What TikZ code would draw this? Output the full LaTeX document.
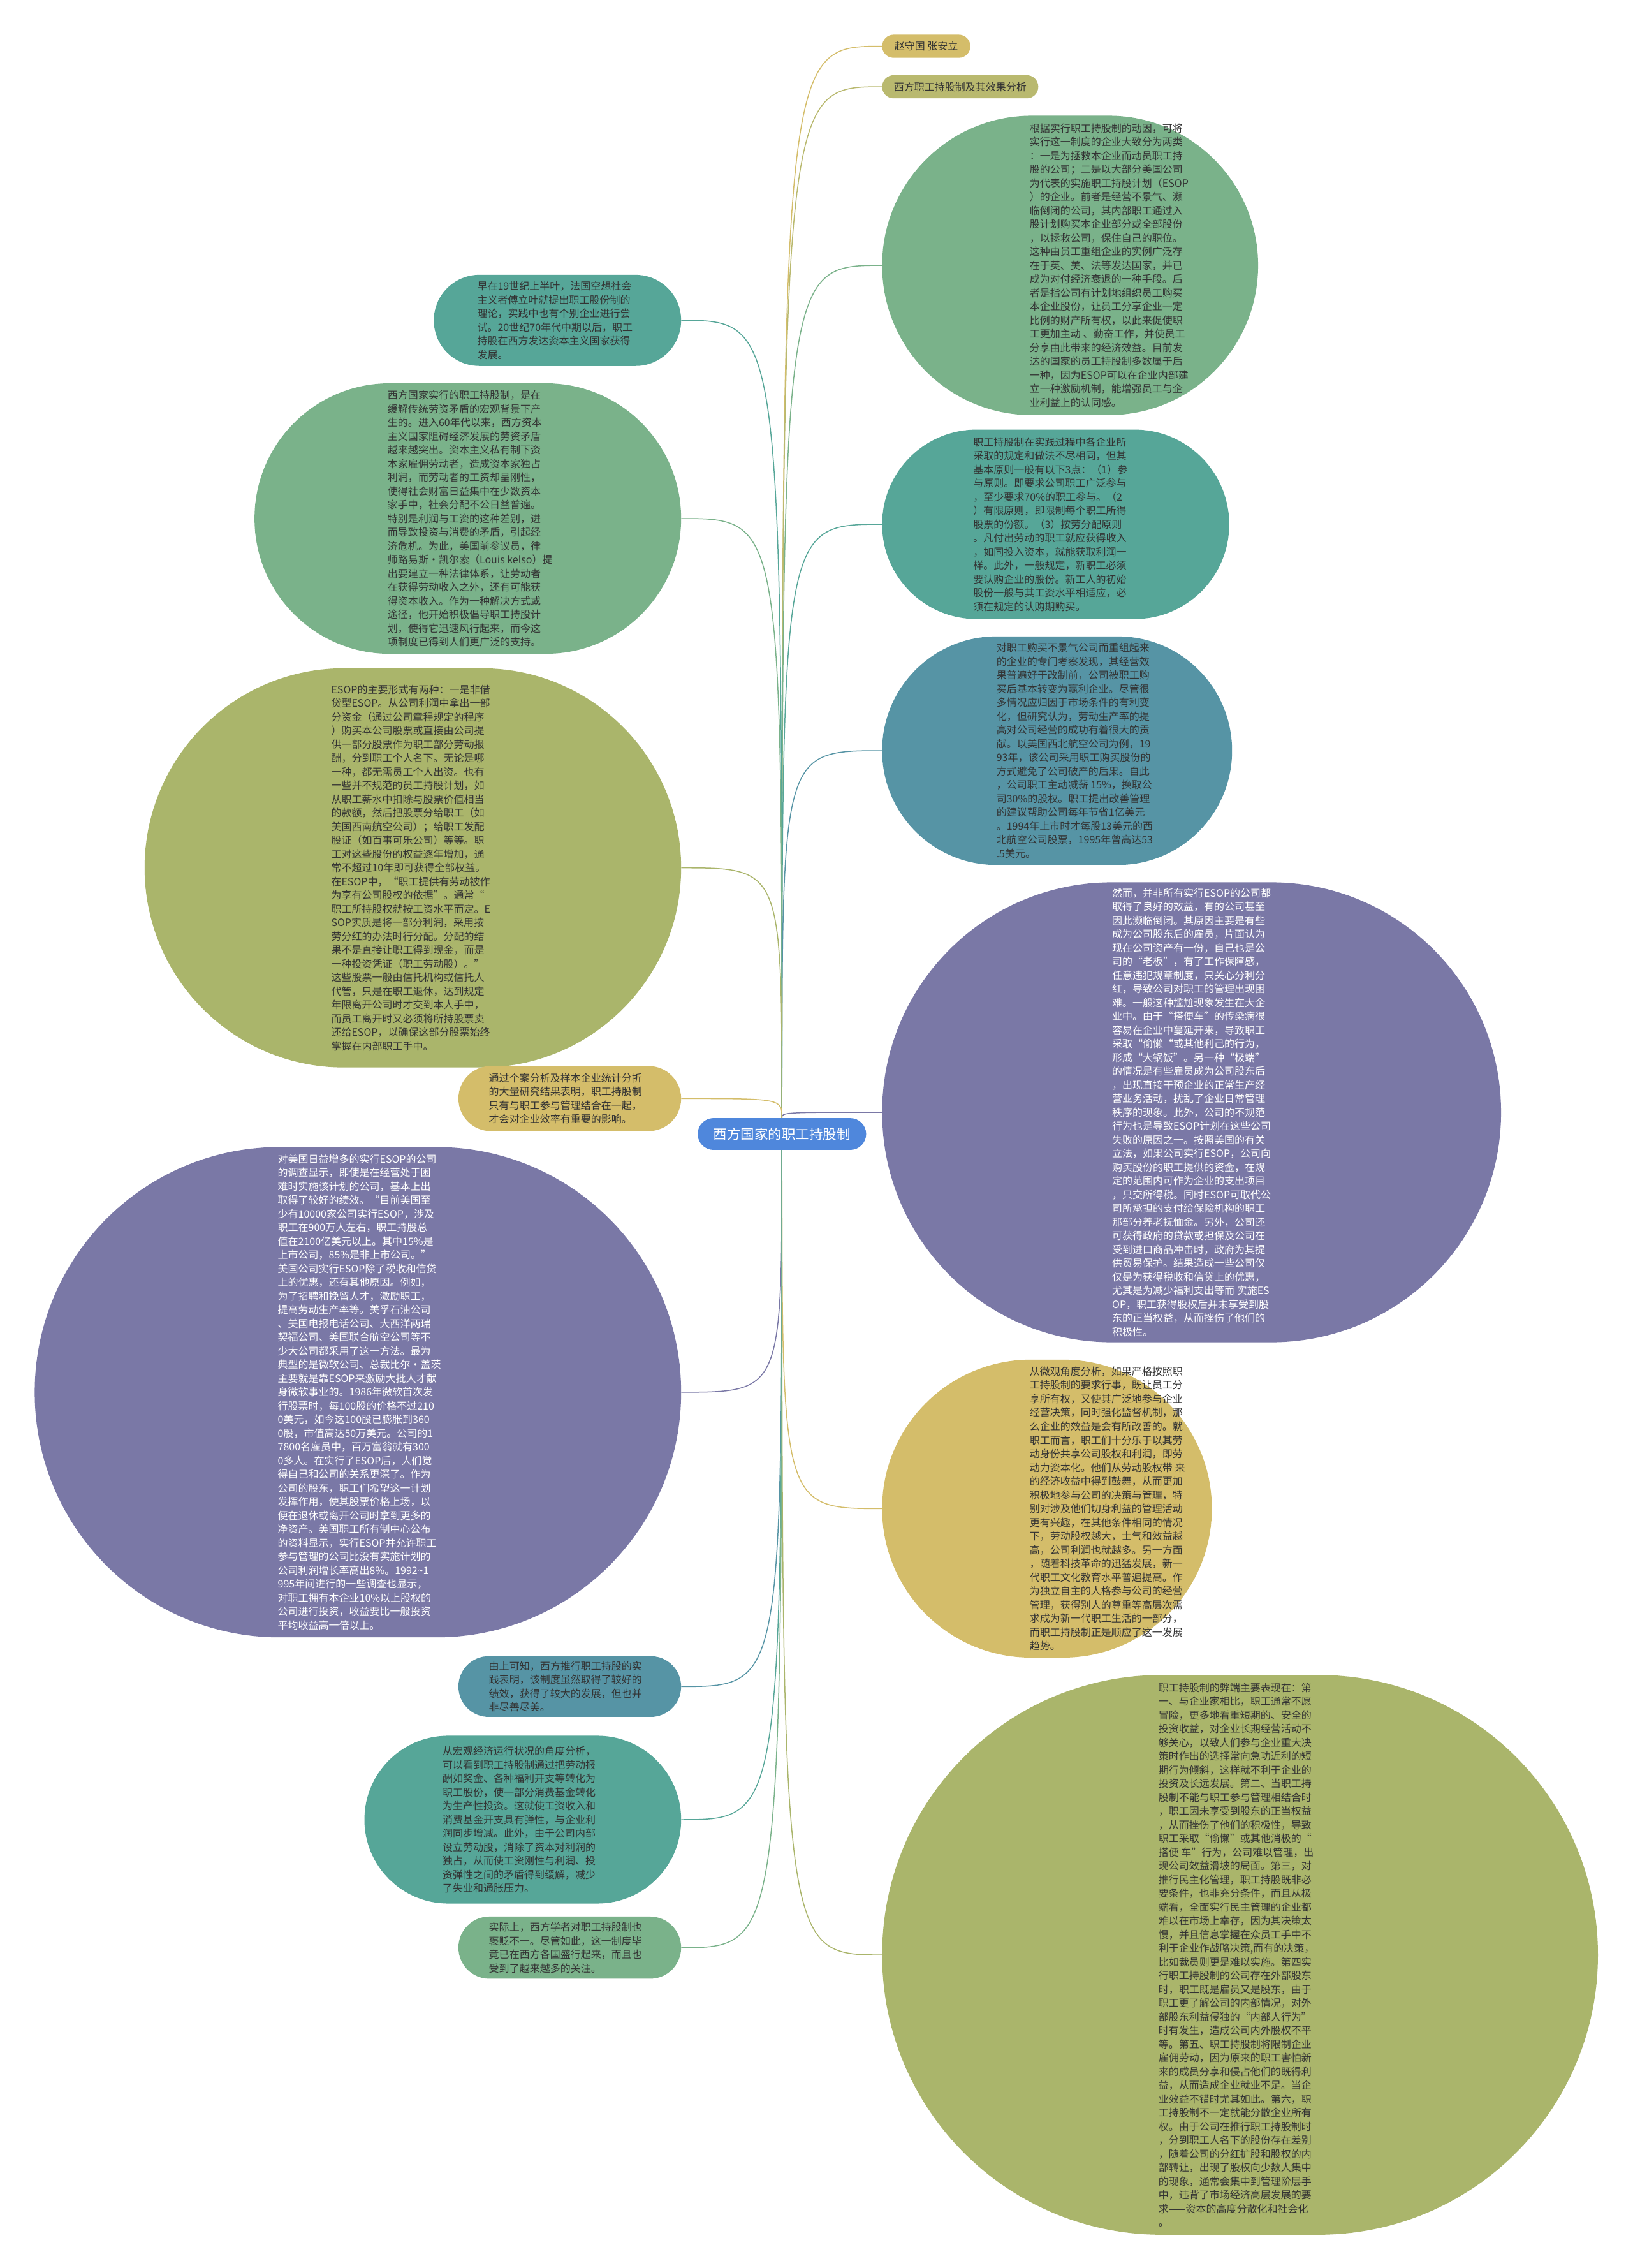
\documentclass[tikz,border=0pt]{standalone}
\usepackage{fontspec}
\setmainfont{Noto Sans CJK SC}
\definecolor{cGold}{HTML}{D4BD6A}
\definecolor{cOliveL}{HTML}{B9B96F}
\definecolor{cOlive}{HTML}{AAB56B}
\definecolor{cGreen}{HTML}{7AB28A}
\definecolor{cTeal}{HTML}{56A698}
\definecolor{cTealBlue}{HTML}{5694A5}
\definecolor{cPurple}{HTML}{7A78A6}
\definecolor{cBlue}{HTML}{4F87DC}
\definecolor{txtdark}{HTML}{333333}
\begin{document}
\begin{tikzpicture}[x=2.2675pt,y=-2.2675pt,
  blob/.style 2 args={rectangle, draw=none, inner sep=0pt,
    minimum width={#1*2.2675pt}, minimum height={#2*2.2675pt},
    rounded corners={#2*1.133pt}},
  txt/.style={anchor=west, align=left, inner sep=0pt, text=txtdark,
    font=\fontsize{16}{21.5}\selectfont},
  wtxt/.style={txt, text=white},
  conn/.style={line width=1.5pt}]
\useasboundingbox[fill=white] (0,0) rectangle (1129,1568);

% ---------- centre ----------
\node[blob={116.5}{22}, fill=cBlue] (ctr) at (540.7,784) {};
\node[anchor=center, inner sep=0pt, text=white, font=\fontsize{21.5}{24}\selectfont] (ctrt) at (ctr) {西方国家的职工持股制};

% ---------- right side ----------
\node[blob={61}{16}, fill=cGold] (pa) at (640.5,32) {};
\node[txt, anchor=center] (pat) at (pa) {赵守国 张安立};

\node[blob={108}{16}, fill=cOliveL] (pb) at (664,60) {};
\node[txt, anchor=center] (pbt) at (pb) {西方职工持股制及其效果分析};

\node[blob={260}{207}, fill=cGreen] (e1) at (740,183.5) {};
\node[txt] (e1t) at (712,183.5) {根据实行职工持股制的动因，可将\\实行这一制度的企业大致分为两类\\：一是为拯救本企业而动员职工持\\股的公司；二是以大部分美国公司\\为代表的实施职工持股计划（ESOP\\）的企业。前者是经营不景气、濒\\临倒闭的公司，其内部职工通过入\\股计划购买本企业部分或全部股份\\，以拯救公司，保住自己的职位。\\这种由员工重组企业的实例广泛存\\在于英、美、法等发达国家，并已\\成为对付经济衰退的一种手段。后\\者是指公司有计划地组织员工购买\\本企业股份，让员工分享企业一定\\比例的财产所有权，以此来促使职\\工更加主动 、勤奋工作，并使员工\\分享由此带来的经济效益。目前发\\达的国家的员工持股制多数属于后\\一种，因为ESOP可以在企业内部建\\立一种激励机制，能增强员工与企\\业利益上的认同感。};

\node[blob={240}{131}, fill=cTeal] (e2) at (730,362.5) {};
\node[txt] (e2t) at (673,362.5) {职工持股制在实践过程中各企业所\\采取的规定和做法不尽相同，但其\\基本原则一般有以下3点：（1）参\\与原则。即要求公司职工广泛参与\\，至少要求70\%的职工参与。（2\\）有限原则，即限制每个职工所得\\股票的份额。（3）按劳分配原则\\。凡付出劳动的职工就应获得收入\\，如同投入资本，就能获取利润一\\样。此外，一般规定，新职工必须\\要认购企业的股份。新工人的初始\\股份一般与其工资水平相适应，必\\须在规定的认购期购买。};

\node[blob={242}{158}, fill=cTealBlue] (e3) at (731,519) {};
\node[txt] (e3t) at (689,519) {对职工购买不景气公司而重组起来\\的企业的专门考察发现，其经营效\\果普遍好于改制前，公司被职工购\\买后基本转变为赢利企业。尽管很\\多情况应归因于市场条件的有利变\\化，但研究认为，劳动生产率的提\\高对公司经营的成功有着很大的贡\\献。以美国西北航空公司为例，19\\93年，该公司采用职工购买股份的\\方式避免了公司破产的后果。自此\\，公司职工主动减薪 15\%，换取公\\司30\%的股权。职工提出改善管理\\的建议帮助公司每年节省1亿美元\\。1994年上市时才每股13美元的西\\北航空公司股票，1995年曾高达53\\.5美元。};

\node[blob={428}{318}, fill=cPurple] (e4) at (824,769) {};
\node[wtxt] (e4t) at (769,769) {然而，并非所有实行ESOP的公司都\\取得了良好的效益，有的公司甚至\\因此濒临倒闭。其原因主要是有些\\成为公司股东后的雇员，片面认为\\现在公司资产有一份，自己也是公\\司的“老板”，有了工作保障感，\\任意违犯规章制度，只关心分利分\\红，导致公司对职工的管理出现困\\难。一般这种尴尬现象发生在大企\\业中。由于“搭便车”的传染病很\\容易在企业中蔓延开来，导致职工\\采取“偷懒“或其他利己的行为，\\形成“大锅饭”。另一种“极端”\\的情况是有些雇员成为公司股东后\\，出现直接干预企业的正常生产经\\营业务活动，扰乱了企业日常管理\\秩序的现象。此外，公司的不规范\\行为也是导致ESOP计划在这些公司\\失败的原因之一。按照美国的有关\\立法，如果公司实行ESOP，公司向\\购买股份的职工提供的资金，在规\\定的范围内可作为企业的支出项目\\，只交所得税。同时ESOP可取代公\\司所承担的支付给保险机构的职工\\那部分养老抚恤金。另外，公司还\\可获得政府的贷款或担保及公司在\\受到进口商品冲击时，政府为其提\\供贸易保护。结果造成一些公司仅\\仅是为获得税收和信贷上的优惠，\\尤其是为减少福利支出等而 实施ES\\OP，职工获得股权后并未享受到股\\东的正当权益，从而挫伤了他们的\\积极性。};

\node[blob={228}{206}, fill=cGold] (e5) at (724,1043) {};
\node[txt] (e5t) at (712,1043) {从微观角度分析，如果严格按照职\\工持股制的要求行事，既让员工分\\享所有权，又使其广泛地参与企业\\经营决策，同时强化监督机制，那\\么企业的效益是会有所改善的。就\\职工而言，职工们十分乐于以其劳\\动身份共享公司股权和利润，即劳\\动力资本化。他们从劳动股权带 来\\的经济收益中得到鼓舞，从而更加\\积极地参与公司的决策与管理，特\\别对涉及他们切身利益的管理活动\\更有兴趣，在其他条件相同的情况\\下，劳动股权越大，士气和效益越\\高，公司利润也就越多。另一方面\\，随着科技革命的迅猛发展，新一\\代职工文化教育水平普遍提高。作\\为独立自主的人格参与公司的经营\\管理，获得别人的尊重等高层次需\\求成为新一代职工生活的一部分，\\而职工持股制正是顺应了这一发展\\趋势。};

\node[blob={495}{387}, fill=cOlive] (e6) at (857.5,1351.5) {};
\node[txt] (e6t) at (801,1351.5) {职工持股制的弊端主要表现在：第\\一、与企业家相比，职工通常不愿\\冒险，更多地看重短期的、安全的\\投资收益，对企业长期经营活动不\\够关心，以致人们参与企业重大决\\策时作出的选择常向急功近利的短\\期行为倾斜，这样就不利于企业的\\投资及长远发展。第二、当职工持\\股制不能与职工参与管理相结合时\\，职工因未享受到股东的正当权益\\，从而挫伤了他们的积极性，导致\\职工采取“偷懒”或其他消极的“\\搭便 车”行为，公司难以管理，出\\现公司效益滑坡的局面。第三，对\\推行民主化管理，职工持股既非必\\要条件，也非充分条件，而且从极\\端看，全面实行民主管理的企业都\\难以在市场上幸存，因为其决策太\\慢，并且信息掌握在众员工手中不\\利于企业作战略决策,而有的决策，\\比如裁员则更是难以实施。第四实\\行职工持股制的公司存在外部股东\\时，职工既是雇员又是股东，由于\\职工更了解公司的内部情况，对外\\部股东利益侵独的“内部人行为”\\时有发生，造成公司内外股权不平\\等。第五、职工持股制将限制企业\\雇佣劳动，因为原来的职工害怕新\\来的成员分享和侵占他们的既得利\\益，从而造成企业就业不足。当企\\业效益不错时尤其如此。第六，职\\工持股制不一定就能分散企业所有\\权。由于公司在推行职工持股制时\\，分到职工人名下的股份存在差别\\，随着公司的分红扩股和股权的内\\部转让，出现了股权向少数人集中\\的现象，通常会集中到管理阶层手\\中，违背了市场经济高层发展的要\\求——资本的高度分散化和社会化\\。};

% ---------- left side ----------
\node[blob={171}{63}, fill=cTeal] (l1) at (385.5,221.5) {};
\node[txt] (l1t) at (330,221.5) {早在19世纪上半叶，法国空想社会\\主义者傅立叶就提出职工股份制的\\理论，实践中也有个别企业进行尝\\试。20世纪70年代中期以后，职工\\持股在西方发达资本主义国家获得\\发展。};

\node[blob={295}{187}, fill=cGreen] (l2) at (323.5,358.5) {};
\node[txt] (l2t) at (268,358.5) {西方国家实行的职工持股制，是在\\缓解传统劳资矛盾的宏观背景下产\\生的。进入60年代以来，西方资本\\主义国家阻碍经济发展的劳资矛盾\\越来越突出。资本主义私有制下资\\本家雇佣劳动者，造成资本家独占\\利润，而劳动者的工资却呈刚性，\\使得社会财富日益集中在少数资本\\家手中，社会分配不公日益普遍。\\特别是利润与工资的这种差别，进\\而导致投资与消费的矛盾，引起经\\济危机。为此，美国前参议员，律\\师路易斯·凯尔索（Louis kelso）提\\出要建立一种法律体系，让劳动者\\在获得劳动收入之外，还有可能获\\得资本收入。作为一种解决方式或\\途径，他开始积极倡导职工持股计\\划，使得它迅速风行起来，而今这\\项制度已得到人们更广泛的支持。};

\node[blob={371}{276}, fill=cOlive] (l3) at (285.5,600) {};
\node[txt] (l3t) at (229,600) {ESOP的主要形式有两种：一是非借\\贷型ESOP。从公司利润中拿出一部\\分资金（通过公司章程规定的程序\\）购买本公司股票或直接由公司提\\供一部分股票作为职工部分劳动报\\酬，分到职工个人名下。无论是哪\\一种，都无需员工个人出资。也有\\一些并不规范的员工持股计划，如\\从职工薪水中扣除与股票价值相当\\的款额，然后把股票分给职工（如\\美国西南航空公司）；给职工发配\\股证（如百事可乐公司）等等。职\\工对这些股份的权益逐年增加，通\\常不超过10年即可获得全部权益。\\在ESOP中，“职工提供有劳动被作\\为享有公司股权的依据”。通常“\\职工所持股权就按工资水平而定。E\\SOP实质是将一部分利润，采用按\\劳分红的办法时行分配。分配的结\\果不是直接让职工得到现金，而是\\一种投资凭证（职工劳动股）。”\\这些股票一般由信托机构或信托人\\代管，只是在职工退休，达到规定\\年限离开公司时才交到本人手中，\\而员工离开时又必须将所持股票卖\\还给ESOP，以确保这部分股票始终\\掌握在内部职工手中。};

\node[blob={154}{45}, fill=cGold] (l4) at (394,759.5) {};
\node[txt] (l4t) at (338,759.5) {通过个案分析及样本企业统计分折\\的大量研究结果表明，职工持股制\\只有与职工参与管理结合在一起，\\才会对企业效率有重要的影响。};

\node[blob={447}{339}, fill=cPurple] (l5) at (247.5,962.5) {};
\node[wtxt] (l5t) at (192,962.5) {对美国日益增多的实行ESOP的公司\\的调查显示，即使是在经营处于困\\难时实施该计划的公司，基本上出\\取得了较好的绩效。“目前美国至\\少有10000家公司实行ESOP，涉及\\职工在900万人左右，职工持股总\\值在2100亿美元以上。其中15\%是\\上市公司，85\%是非上市公司。”\\美国公司实行ESOP除了税收和信贷\\上的优惠，还有其他原因。例如，\\为了招聘和挽留人才，激励职工，\\提高劳动生产率等。美孚石油公司\\、美国电报电话公司、大西洋两瑞\\契福公司、美国联合航空公司等不\\少大公司都采用了这一方法。最为\\典型的是微软公司、总裁比尔·盖茨\\主要就是靠ESOP来激励大批人才献\\身微软事业的。1986年微软首次发\\行股票时，每100股的价格不过210\\0美元，如今这100股已膨胀到360\\0股，市值高达50万美元。公司的1\\7800名雇员中，百万富翁就有300\\0多人。在实行了ESOP后，人们觉\\得自己和公司的关系更深了。作为\\公司的股东，职工们希望这一计划\\发挥作用，使其股票价格上场，以\\便在退休或离开公司时拿到更多的\\净资产。美国职工所有制中心公布\\的资料显示，实行ESOP并允许职工\\参与管理的公司比没有实施计划的\\公司利润增长率高出8\%。1992\textasciitilde 1\\995年间进行的一些调查也显示，\\对职工拥有本企业10\%以上股权的\\公司进行投资，收益要比一般投资\\平均收益高一倍以上。};

\node[blob={154}{42}, fill=cTealBlue] (l6) at (394,1166) {};
\node[txt] (l6t) at (338,1166) {由上可知，西方推行职工持股的实\\践表明，该制度虽然取得了较好的\\绩效，获得了较大的发展，但也并\\非尽善尽美。};

\node[blob={219}{116}, fill=cTeal] (l7) at (361.5,1258) {};
\node[txt] (l7t) at (306,1258) {从宏观经济运行状况的角度分析，\\可以看到职工持股制通过把劳动报\\酬如奖金、各种福利开支等转化为\\职工股份，使一部分消费基金转化\\为生产性投资。这就使工资收入和\\消费基金开支具有弹性，与企业利\\润同步增减。此外，由于公司内部\\设立劳动股，消除了资本对利润的\\独占，从而使工资刚性与利润、投\\资弹性之间的矛盾得到缓解，减少\\了失业和通胀压力。};

\node[blob={154}{43}, fill=cGreen] (l8) at (394,1346.5) {};
\node[txt] (l8t) at (338,1346.5) {实际上，西方学者对职工持股制也\\褒贬不一。尽管如此，这一制度毕\\竟已在西方各国盛行起来，而且也\\受到了越来越多的关注。};

% ---------- connectors ----------
\draw[conn, draw=cGold]      (ctr.north) .. controls (ctr.north |- pa.west) .. (pa.west);
\draw[conn, draw=cOliveL]    (ctr.north) .. controls (ctr.north |- pb.west) .. (pb.west);
\draw[conn, draw=cGreen]     (ctr.north) .. controls (ctr.north |- e1.west) .. (e1.west);
\draw[conn, draw=cTeal]      (ctr.north) .. controls (ctr.north |- e2.west) .. (e2.west);
\draw[conn, draw=cTealBlue]  (ctr.north) .. controls (ctr.north |- e3.west) .. (e3.west);
\draw[conn, draw=cPurple]    (ctr.north) .. controls (ctr.north |- e4.west) .. (e4.west);
\draw[conn, draw=cGold]      (ctr.south) .. controls (ctr.south |- e5.west) .. (e5.west);
\draw[conn, draw=cOlive]     (ctr.south) .. controls (ctr.south |- e6.west) .. (e6.west);
\draw[conn, draw=cTeal]      (ctr.north) .. controls (ctr.north |- l1.east) .. (l1.east);
\draw[conn, draw=cGreen]     (ctr.north) .. controls (ctr.north |- l2.east) .. (l2.east);
\draw[conn, draw=cOlive]     (ctr.north) .. controls (ctr.north |- l3.east) .. (l3.east);
\draw[conn, draw=cGold]      (ctr.north) .. controls (ctr.north |- l4.east) .. (l4.east);
\draw[conn, draw=cPurple]    (ctr.south) .. controls (ctr.south |- l5.east) .. (l5.east);
\draw[conn, draw=cTealBlue]  (ctr.south) .. controls (ctr.south |- l6.east) .. (l6.east);
\draw[conn, draw=cTeal]      (ctr.south) .. controls (ctr.south |- l7.east) .. (l7.east);
\draw[conn, draw=cGreen]     (ctr.south) .. controls (ctr.south |- l8.east) .. (l8.east);
\end{tikzpicture}
\end{document}
